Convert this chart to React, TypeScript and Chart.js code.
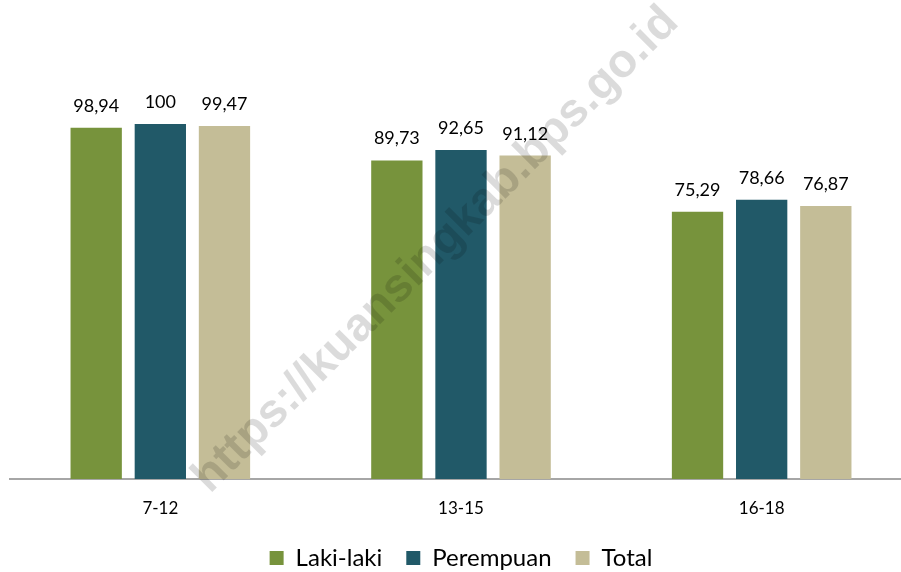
import React, { useEffect, useRef } from "react";
import { Chart, registerables } from "chart.js";

Chart.register(...registerables);

const categories = ["7-12", "13-15", "16-18"];
const lakiLaki = [98.94, 89.73, 75.29];
const perempuan = [100, 92.65, 78.66];
const total = [99.47, 91.12, 76.87];
const seriesNames = ["Laki-laki", "Perempuan", "Total"];
const seriesColors = ["#77933C", "#215968", "#C4BD97"];
const watermarkText = "https://kuansingkab.bps.go.id";

const FONT = "Lato, 'Noto Sans', sans-serif";

const fmt = (v: number) => v.toString().replace(".", ",");

const valueLabels = {
  id: "valueLabels",
  afterDatasetsDraw(chart: any) {
    const { ctx } = chart;
    ctx.save();
    ctx.fillStyle = "#000";
    ctx.font = `18px ${FONT}`;
    ctx.textAlign = "center";
    ctx.textBaseline = "alphabetic";
    chart.data.datasets.forEach((ds: any, i: number) => {
      const meta = chart.getDatasetMeta(i);
      meta.data.forEach((bar: any, j: number) => {
        ctx.fillText(fmt(ds.data[j]), bar.x, bar.y - 16);
      });
    });
    ctx.restore();
  },
};

const watermark = {
  id: "watermark",
  afterDraw(chart: any) {
    const { ctx } = chart;
    ctx.save();
    ctx.font = `bold 40px 'Liberation Sans', Arial, sans-serif`;
    const w = ctx.measureText(watermarkText).width;
    const size = (40 * 665) / w;
    ctx.font = `bold ${size}px 'Liberation Sans', Arial, sans-serif`;
    ctx.translate(436, 250);
    ctx.rotate((-45 * Math.PI) / 180);
    ctx.fillStyle = "rgba(0,0,0,0.14)";
    ctx.textAlign = "center";
    ctx.textBaseline = "middle";
    ctx.fillText(watermarkText, 0, 0);
    ctx.restore();
  },
};

export default function App() {
  const ref = useRef<HTMLCanvasElement>(null);
  useEffect(() => {
    document.body.style.margin = "0";
    document.body.style.overflow = "hidden";
    const data = [lakiLaki, perempuan, total];
    const chart = new Chart(ref.current!, {
      type: "bar",
      data: {
        labels: categories,
        datasets: seriesNames.map((name, i) => ({
          label: name,
          data: data[i],
          backgroundColor: seriesColors[i],
          categoryPercentage: 0.64,
          barPercentage: 0.8,
        })),
      },
      plugins: [valueLabels, watermark],
      options: {
        animation: false,
        responsive: false,
        maintainAspectRatio: false,
        layout: { padding: { top: 53, left: 10, right: 0, bottom: -8 } },
        scales: {
          x: {
            grid: { display: false, drawTicks: false },
            border: { display: true, color: "#A6A6A6", width: 2 },
            ticks: { color: "#000", font: { size: 17, family: FONT }, padding: 19 },
            afterFit: (s: any) => {
              s.height = 43;
            },
          },
          y: {
            display: false,
            min: 0,
            max: 120,
          },
        },
        plugins: {
          legend: {
            position: "bottom",
            labels: {
              color: "#000",
              font: { size: 24, family: FONT },
              boxWidth: 14,
              boxHeight: 14,
              padding: 24,
            },
          },
          tooltip: { enabled: false },
        },
      },
    });
    return () => chart.destroy();
  }, []);
  return (
    <div style={{ width: 912, height: 572 }}>
      <canvas ref={ref} width={912} height={572} style={{ display: "block" }} />
    </div>
  );
}
